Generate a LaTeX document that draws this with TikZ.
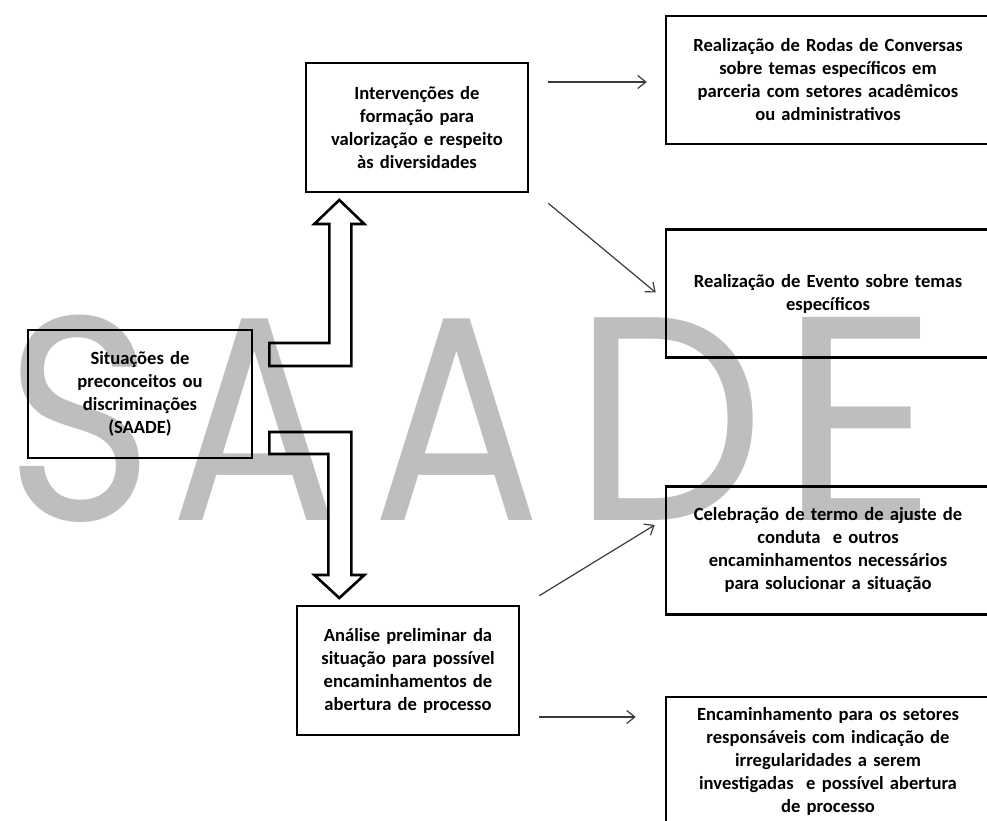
\documentclass[tikz,border=0pt]{standalone}
\usepackage{fontspec}
\usepackage{tikz}
\usetikzlibrary{arrows.meta}
\setmainfont{Carlito}
\newfontfamily\markfont{Poppins}
\definecolor{markgray}{HTML}{BEBEBE}
\definecolor{linkgray}{HTML}{3A3A3A}

\begin{document}
\begin{tikzpicture}[x=1pt, y=-1pt,
  box/.style={draw, line width=2.6pt, align=center, inner sep=0pt,
    font=\bfseries\fontsize{18.6}{23}\selectfont},
  midbox/.style={box, minimum width=222pt, minimum height=129pt, text width=215pt},
  sidebox/.style={box, minimum width=324pt, minimum height=128pt, text width=315pt},
  link/.style={draw=linkgray, line width=1.2pt, -{Straight Barb[length=8pt,width=13pt]}},
  bigarrow/.style={draw, line width=2.6pt, line join=miter}]
\useasboundingbox (0,0) rectangle (987,821);

% letters behind the chart
\foreach \ch/\cx/\sx in {S/80/0.87, A/255/0.86, A/457/0.86, D/669/0.93, E/859/1.08}
  \node[markgray, anchor=base, inner sep=0pt, font=\markfont\fontsize{291}{300}\selectfont]
    at (\cx,520) {\scalebox{\sx}[1]{\ch}};

\node[box, minimum width=224pt, minimum height=128pt, text width=215pt] (sit) at (140,394) {%
Situações de\\preconceitos ou\\discriminações\\(SAADE)};
\node[midbox] (interv) at (417,127.5) {%
Intervenções de\\formação para\\valorização e respeito\\às diversidades};
\node[midbox] (analise) at (408,670.5) {%
Análise preliminar da\\situação para possível\\encaminhamentos de\\abertura de processo};

\node[sidebox] (rodas) at (828,80) {%
Realização de Rodas de Conversas\\sobre temas específicos em\\parceria com setores acadêmicos\\ou administrativos};
\node[sidebox] (evento) at (828,293.5) {%
Realização de Evento sobre temas\\específicos};
\node[sidebox] (celeb) at (828,550.5) {%
Celebração de termo de ajuste de\\conduta\ \ e outros\\encaminhamentos necessários\\para solucionar a situação};
\node[sidebox] (encam) at (828,761) {%
Encaminhamento para os setores\\responsáveis com indicação de\\irregularidades a serem\\investigadas\ \ e possível abertura\\de processo};

% bent block arrows out of the left box
\draw[bigarrow] ([shift={(16,-51)}]sit.east) -- ++(60,0) -- ++(0,-119) -- ++(-15,0)
  -- ++(25,-24) -- ++(25,24) -- ++(-13,0) -- ++(0,142) -- ++(-82,0) -- cycle;
\draw[bigarrow] ([shift={(16,38)}]sit.east) -- ++(82,0) -- ++(0,143) -- ++(13,0)
  -- ++(-25,23) -- ++(-25,-23) -- ++(14,0) -- ++(0,-121) -- ++(-59,0) -- cycle;

% thin arrows to the right column
\coordinate (r1) at ([yshift=45.5pt]interv.east);
\draw[link, shorten <=19pt, shorten >=18pt] (r1) -- (r1 -| rodas.west);
\draw[link] ([shift={(19,10)}]interv.south east) -- ([shift={(-9,-1)}]evento.west);
\draw[link] ([shift={(19,-9)}]analise.north east) -- ([shift={(-10,-25.5)}]celeb.west);
\coordinate (r2) at ([yshift=-46.5pt]analise.east);
\draw[link, shorten <=19pt, shorten >=29pt] (r2) -- (r2 -| encam.west);
\end{tikzpicture}
\end{document}
